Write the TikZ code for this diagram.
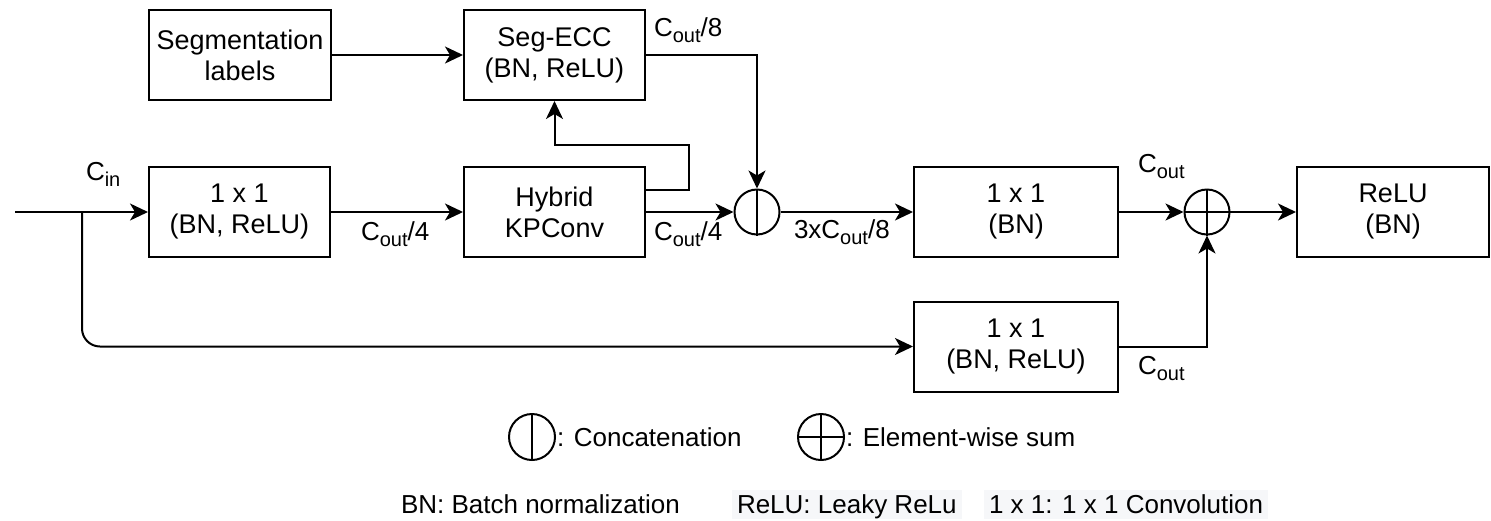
\documentclass[tikz,border=0pt]{standalone}
\usepackage{fontspec}
\setmainfont{Liberation Sans}
\usetikzlibrary{arrows.meta}
\definecolor{keygray}{HTML}{F6F7F9}
\newcommand{\chsub}[1]{\raisebox{-6pt}{\fontsize{20}{20}\selectfont #1}}

\begin{document}
\begin{tikzpicture}[x=1pt, y=-1pt, line width=2pt,
    >={Stealth[length=18pt,width=17pt,inset=5pt]},
    block/.style={draw, minimum width=181pt, minimum height=90pt, align=center,
        font=\fontsize{27}{31}\selectfont},
    junction/.style={draw, circle, minimum size=45pt, inner sep=0pt},
    lbl/.style={anchor=base west, inner sep=0pt, font=\fontsize{26}{30}\selectfont},
    keytext/.style={inner sep=0pt, font=\fontsize{26}{30}\selectfont},
    keybox/.style={keytext, fill=keygray, inner xsep=5pt, text height=23pt, text depth=6pt}]
        \useasboundingbox (0,0) rectangle (1491,520);

        % Blocks
        \node[block, minimum width=182pt] (seg) at (240,55) {Segmentation\\labels};
        \node[block] (ecc) at (554.5,55) {Seg-ECC\\(BN, ReLU)};
        \node[block] (conva) at (239.5,212) {1 x 1\\(BN, ReLU)};
        \node[block] (kp) at (554.5,212) {Hybrid\\KPConv};
        \node[block, minimum width=204pt] (convb) at (1016,212) {1 x 1\\(BN)};
        \node[block, minimum width=204pt] (convc) at (1016,346.5) {1 x 1\\(BN, ReLU)};
        \node[block, minimum width=192pt] (relu) at (1393,212) {ReLU\\(BN)};

        % Concatenation and sum
        \node[junction] (cat) at (757,212) {};
        \draw (cat.north) -- (cat.south);
        \node[junction] (sum) at (1207,212) {};
        \draw (sum.north) -- (sum.south) (sum.west) -- (sum.east);

        % Connectors
        \coordinate (in) at (15,212);
        \coordinate (split) at (82,212);
        \coordinate (loop) at (689,145);
        \draw[->] (in) -- (conva);
        \draw[->, rounded corners=18pt] (split) |- (convc.west);
        \draw[->] (conva) -- (kp);
        \draw[->] (kp) -- (cat);
        \draw[->] ([yshift=22pt]kp.east) -| (loop) -| (ecc.south);
        \draw[->] (seg) -- (ecc);
        \draw[->] (ecc.east) -| (cat.north);
        \draw[->] (cat) -- (convb);
        \draw[->] (convb) -- (sum);
        \draw[->] (convc.east) -| (sum.south);
        \draw[->] (sum) -- (relu);

        % Channel labels
        \node[lbl] (cin) at (85,180) {C\chsub{in}};
        \node[lbl] (qa) at (360,240) {C\chsub{out}/4};
        \node[lbl] (qb) at (653,240) {C\chsub{out}/4};
        \node[lbl] (ea) at (653,36) {C\chsub{out}/8};
        \node[lbl] (ta) at (793,238) {3xC\chsub{out}/8};
        \node[lbl] (oa) at (1137,172) {C\chsub{out}};
        \node[lbl] (ob) at (1137,374) {C\chsub{out}};

        % Legend
        \node[junction, minimum size=46pt] (keycat) at (532,437) {};
        \draw (keycat.north) -- (keycat.south);
        \node[keytext, anchor=west] (catname) at (keycat.east) {: Concatenation};
        \node[junction, minimum size=46pt] (keysum) at (821,437) {};
        \draw (keysum.north) -- (keysum.south) (keysum.west) -- (keysum.east);
        \node[keytext, anchor=west] (sumname) at (keysum.east) {: Element-wise sum};

        \node[keytext, anchor=base west] (bn) at (400,513) {BN: Batch normalization};
        \node[keybox, anchor=base west] (lr) at (731,513) {ReLU: Leaky ReLu};
        \node[keybox, anchor=base west] (cv) at (983,513) {1 x 1: 1 x 1 Convolution};
    \end{tikzpicture}
\end{document}
